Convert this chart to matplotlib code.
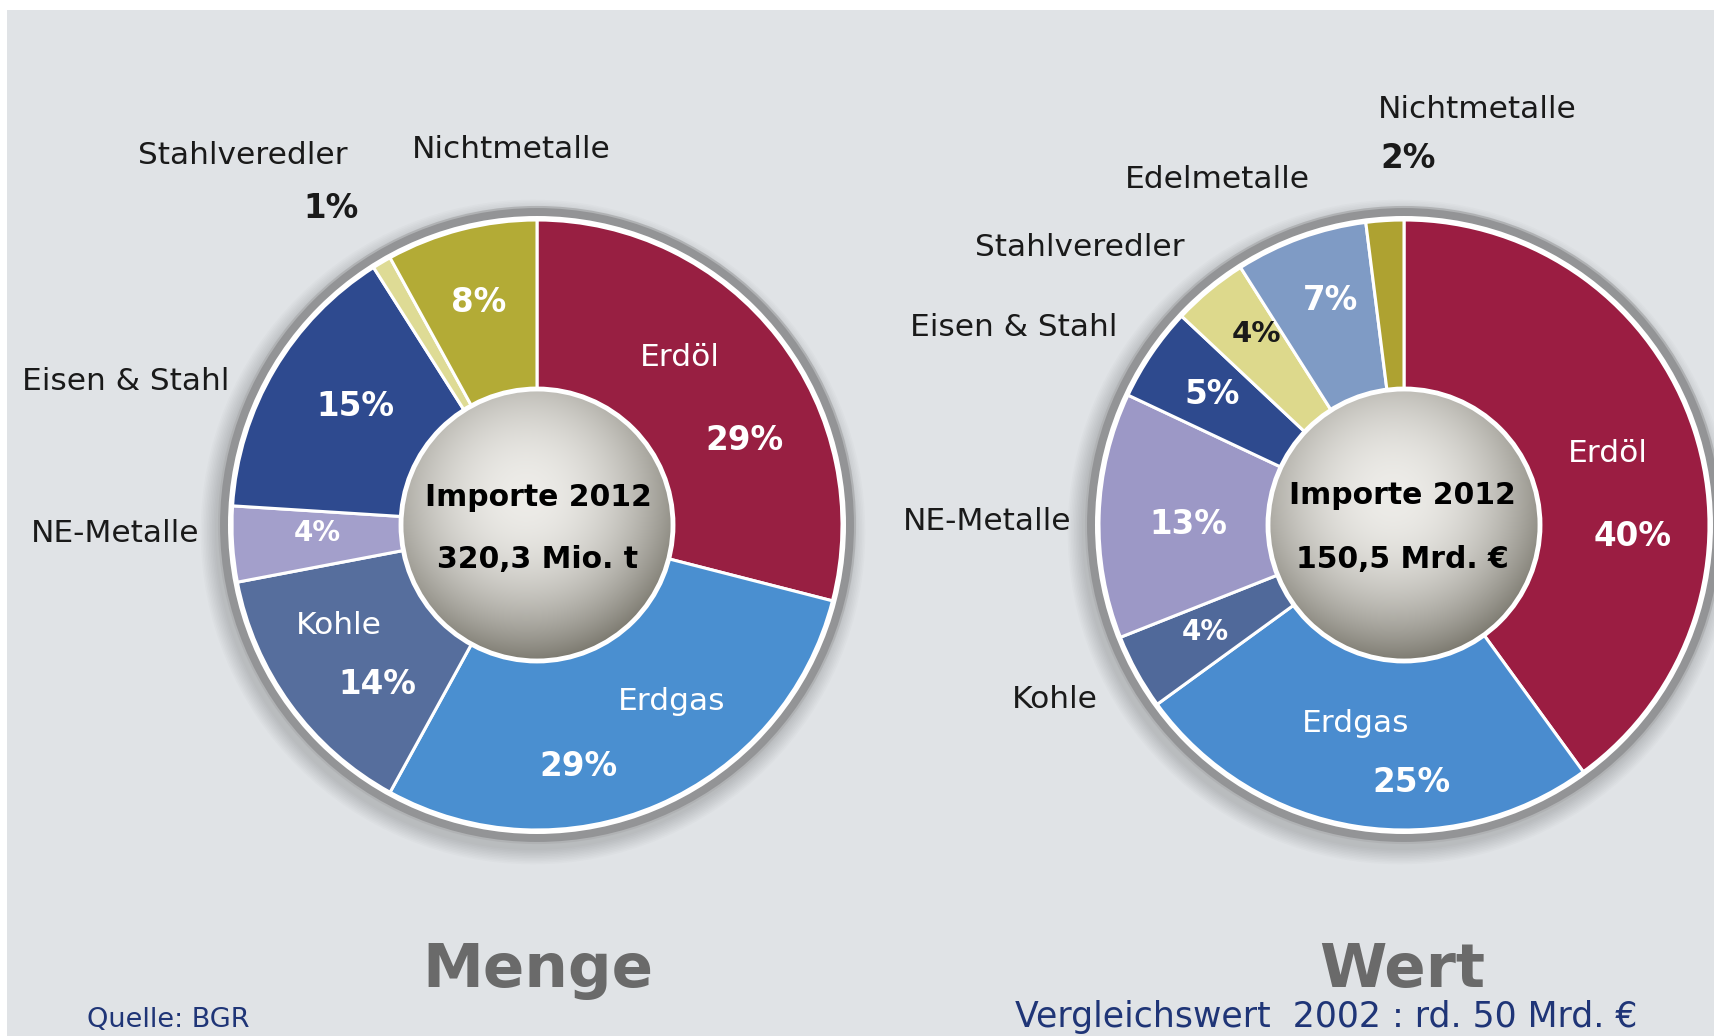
import numpy as np
import matplotlib
matplotlib.use('Agg')
import matplotlib.pyplot as plt
from matplotlib.patches import Circle, Rectangle

# ---------------- data ----------------
menge_labels = ['Erdöl', 'Erdgas', 'Kohle', 'NE-Metalle', 'Eisen & Stahl',
                'Stahlveredler', 'Nichtmetalle']
menge_values = [29, 29, 14, 4, 15, 1, 8]
menge_total = '320,3 Mio. t'

wert_labels = ['Erdöl', 'Erdgas', 'Kohle', 'NE-Metalle', 'Eisen & Stahl',
               'Stahlveredler', 'Edelmetalle', 'Nichtmetalle']
wert_values = [40, 25, 4, 13, 5, 4, 7, 2]
wert_total = '150,5 Mrd. €'

center_title = 'Importe 2012'
panel_titles = ['Menge', 'Wert']
source_text = 'Quelle: BGR'
compare_text = 'Vergleichswert  2002 : rd. 50 Mrd. €'

# ---------------- styles ----------------
menge_colors = ['#981f42', '#4a8fd0', '#566e9d', '#a39fcb', '#2e4a8f',
                '#dedb95', '#b3ab36']
wert_colors = ['#9b1d42', '#4a8ccf', '#50699a', '#9c98c6', '#2e4a8e',
               '#ddd98c', '#7f9bc5', '#aea231']

W, H = 1715, 1036
BG = '#e0e3e6'
R_OUT, R_IN = 305, 136

fig = plt.figure(figsize=(W / 100, H / 100), dpi=100)
fig.patch.set_facecolor('white')
ax = fig.add_axes([0, 0, 1, 1])
ax.add_patch(Rectangle((7, 0), W - 7, H - 10, facecolor=BG, edgecolor='none', zorder=0))


def Y(y):
    return H - y


def donut(cx, cy, values, colors):
    c = (cx, Y(cy))
    # soft shadow
    for i in range(10):
        ax.add_patch(Circle((c[0] - 4, c[1] - 7), 318 + i * 1.6, facecolor='black',
                            edgecolor='none', alpha=0.016, zorder=1))
    ax.add_patch(Circle(c, 318, facecolor='#939496', edgecolor='#b0b2b4', lw=1.5, zorder=2))
    ax.add_patch(Circle(c, 309, facecolor='white', edgecolor='none', zorder=2.5))
    ax.pie(values, colors=colors, startangle=90, counterclock=False, radius=R_OUT,
           center=c, wedgeprops=dict(width=R_OUT - R_IN, edgecolor='white',
                                     linewidth=2.2, zorder=3))
    # metallic inner disc
    n = 300
    u = np.linspace(-1, 1, n)
    uu, vv = np.meshgrid(u, u)          # vv = -1 at top row (origin upper)
    d = np.sqrt((uu + 0.08) ** 2 + (vv + 0.22) ** 2)
    t = np.clip(d / 1.25, 0, 1) ** 2.0
    light = np.array([0.93, 0.925, 0.91])
    dark = np.array([0.47, 0.46, 0.42])
    img = light[None, None, :] * (1 - t[..., None]) + dark[None, None, :] * t[..., None]
    disc = Circle(c, R_IN, facecolor='none', edgecolor='none', zorder=4)
    ax.add_patch(disc)
    im = ax.imshow(img, extent=(c[0] - R_IN, c[0] + R_IN, c[1] - R_IN, c[1] + R_IN),
                   origin='upper', zorder=4, interpolation='bilinear')
    im.set_clip_path(disc)
    ax.add_patch(Circle(c, R_IN, facecolor='none', edgecolor='white', lw=3.5, zorder=5))


donut(537, 525, menge_values, menge_colors)
donut(1404, 525, wert_values, wert_colors)

FS = 22.5
FB = 23.5


def txt(x, y, s, color='#1a1a1a', bold=False, size=None, ha='center', va='center'):
    if size is None:
        size = FB if bold else FS
    ax.text(x, Y(y), s, color=color, fontsize=size, ha=ha, va=va,
            fontweight='bold' if bold else 'normal', family='DejaVu Sans', zorder=6)


def pct(v):
    return f'{v}%'


# ----- left: Menge -----
m = dict(zip(menge_labels, menge_values))
txt(243, 155, 'Stahlveredler')
txt(331, 208, pct(m['Stahlveredler']), bold=True)
txt(511, 150, 'Nichtmetalle')
txt(126, 381, 'Eisen & Stahl')
txt(115, 533, 'NE-Metalle')
txt(479, 302, pct(m['Nichtmetalle']), color='white', bold=True)
txt(680, 358, 'Erdöl', color='white')
txt(744, 441, pct(m['Erdöl']), color='white', bold=True)
txt(355, 407, pct(m['Eisen & Stahl']), color='white', bold=True)
txt(317, 533, pct(m['NE-Metalle']), color='white', bold=True, size=20)
txt(339, 626, 'Kohle', color='white')
txt(377, 685, pct(m['Kohle']), color='white', bold=True)
txt(672, 702, 'Erdgas', color='white')
txt(578, 766, pct(m['Erdgas']), color='white', bold=True)
txt(538, 498, center_title, color='black', bold=True, size=21.5)
txt(538, 559, menge_total, color='black', bold=True, size=21.5)

# ----- right: Wert -----
w = dict(zip(wert_labels, wert_values))
txt(1477, 109, 'Nichtmetalle')
txt(1408, 159, pct(w['Nichtmetalle']), bold=True)
txt(1217, 180, 'Edelmetalle')
txt(1080, 247, 'Stahlveredler')
txt(1014, 328, 'Eisen & Stahl')
txt(1256, 334, pct(w['Stahlveredler']), color='#1a1a1a', bold=True, size=21)
txt(1331, 301, pct(w['Edelmetalle']), color='white', bold=True)
txt(1212, 394, pct(w['Eisen & Stahl']), color='white', bold=True)
txt(987, 522, 'NE-Metalle')
txt(1188, 525, pct(w['NE-Metalle']), color='white', bold=True)
txt(1205, 632, pct(w['Kohle']), color='white', bold=True, size=20)
txt(1055, 700, 'Kohle')
txt(1356, 724, 'Erdgas', color='white')
txt(1411, 782, pct(w['Erdgas']), color='white', bold=True)
txt(1608, 454, 'Erdöl', color='white')
txt(1633, 536, pct(w['Erdöl']), color='white', bold=True)
txt(1402, 495, center_title, color='black', bold=True, size=21.5)
txt(1402, 559, wert_total, color='black', bold=True, size=21.5)

# ----- bottom titles -----
txt(538, 970, panel_titles[0], color='#6a6a6a', bold=True, size=44)
txt(1402, 970, panel_titles[1], color='#6a6a6a', bold=True, size=44)
txt(87, 1020, source_text, color='#1f3577', size=19.5, ha='left')
txt(1326, 1027, compare_text, color='#1f3577', size=25, va='baseline')

ax.set_xlim(0, W)
ax.set_ylim(0, H)
ax.set_aspect('equal')
ax.axis('off')
fig.savefig('out.png', dpi=100, facecolor=fig.get_facecolor())
